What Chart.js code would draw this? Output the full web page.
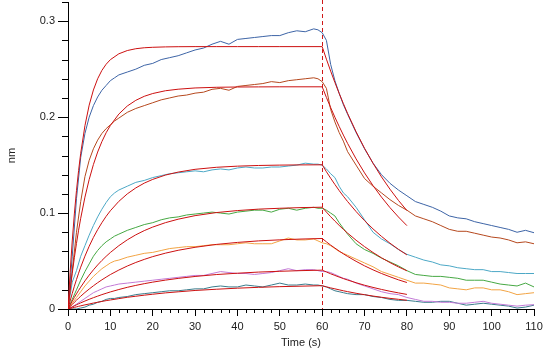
<!DOCTYPE html>
<html>
<head>
<meta charset="utf-8">
<script src="https://cdn.jsdelivr.net/npm/chart.js@4.4.1/dist/chart.umd.min.js"></script>
<style>
  html, body { margin: 0; padding: 0; background: #fff; }
  #wrap { width: 543px; height: 351px; }
</style>
</head>
<body>
<div id="wrap"><canvas id="chart" width="543" height="351"></canvas></div>
<script>
// sensor trace sampling times (s)
const dataTime = [0,1,2,3,4,5,6,7,8,9,10,11,12,14,16,18,20,22,24,26,28,30,32,34,36,38,40,42,44,46,48,50,52,54,56,58,
  59,60,61,62,63,64,65,66,68,70,72,74,76,78,80,82,84,86,88,90,92,94,96,98,100,102,104,106,108,110];

// measured traces (nm), highest to lowest
const traceBlue = [0,0.055,0.115,0.158,0.183,0.200,0.212,0.221,0.228,0.233,0.238,0.241,0.244,
  0.247,0.250,0.254,0.256,0.260,0.262,0.264,0.267,0.270,0.272,0.276,0.279,0.276,0.281,0.282,0.283,0.284,0.285,0.285,0.288,0.290,0.289,0.292,
  0.291,0.288,0.280,0.255,0.238,0.225,0.213,0.203,
  0.184,0.167,0.152,0.140,0.131,0.124,0.118,0.112,0.109,0.106,0.102,0.097,0.095,0.094,0.091,0.089,0.087,0.085,0.083,0.080,0.082,0.0795];
const traceBrown = [0,0.040,0.080,0.112,0.138,0.155,0.167,0.176,0.183,0.188,0.192,0.196,0.199,
  0.205,0.209,0.212,0.215,0.218,0.220,0.222,0.223,0.225,0.226,0.229,0.230,0.228,0.232,0.233,0.234,0.235,0.237,0.236,0.238,0.239,0.240,0.241,
  0.240,0.237,0.230,0.208,0.195,0.184,0.175,0.164,
  0.150,0.136,0.128,0.121,0.114,0.108,0.103,0.097,0.094,0.091,0.087,0.083,0.081,0.081,0.079,0.077,0.075,0.074,0.072,0.069,0.070,0.068];
const traceCyan = [0,0.028,0.040,0.055,0.066,0.077,0.087,0.096,0.104,0.111,0.117,0.121,0.124,
  0.128,0.132,0.134,0.137,0.139,0.141,0.142,0.143,0.144,0.143,0.145,0.146,0.145,0.147,0.148,0.147,0.147,0.148,0.148,0.149,0.150,0.152,0.151,
  0.151,0.150,0.146,0.141,0.137,0.128,0.121,0.117,
  0.106,0.093,0.080,0.073,0.068,0.062,0.057,0.054,0.051,0.049,0.046,0.045,0.043,0.042,0.041,0.041,0.039,0.039,0.038,0.037,0.037,0.037];
const traceGreen = [0,0.010,0.020,0.030,0.039,0.047,0.055,0.061,0.066,0.070,0.073,0.076,0.078,
  0.082,0.085,0.088,0.090,0.093,0.095,0.096,0.098,0.099,0.100,0.101,0.100,0.099,0.101,0.102,0.103,0.103,0.101,0.104,0.105,0.103,0.105,0.106,
  0.105,0.105,0.103,0.100,0.097,0.090,0.084,0.078,
  0.068,0.062,0.058,0.053,0.049,0.045,0.040,0.036,0.035,0.034,0.034,0.033,0.032,0.030,0.030,0.030,0.028,0.026,0.025,0.024,0.027,0.023];
const traceOrange = [0,0.006,0.012,0.018,0.024,0.029,0.034,0.038,0.042,0.045,0.048,0.050,0.051,
  0.054,0.056,0.058,0.059,0.061,0.063,0.064,0.065,0.065,0.066,0.067,0.067,0.067,0.068,0.069,0.068,0.068,0.068,0.071,0.074,0.072,0.072,0.073,
  0.071,0.069,0.068,0.066,0.063,0.060,0.058,0.056,
  0.052,0.048,0.044,0.039,0.036,0.033,0.030,0.027,0.027,0.026,0.025,0.022,0.021,0.020,0.022,0.022,0.020,0.020,0.018,0.015,0.016,0.017];
const tracePurple = [0,0.002,0.005,0.008,0.011,0.014,0.017,0.019,0.021,0.023,0.024,0.025,0.026,
  0.027,0.028,0.029,0.030,0.031,0.032,0.033,0.034,0.035,0.035,0.037,0.039,0.038,0.037,0.037,0.036,0.037,0.038,0.040,0.042,0.040,0.041,0.041,
  0.040,0.039,0.039,0.038,0.036,0.034,0.032,0.031,
  0.027,0.024,0.021,0.018,0.016,0.015,0.012,0.010,0.008,0.008,0.007,0.007,0.006,0.006,0.007,0.008,0.006,0.005,0.004,0.003,0.004,0.0045];
const traceTeal = [0,0.000,0.000,0.001,0.002,0.004,0.005,0.007,0.008,0.010,0.011,0.011,0.012,
  0.013,0.015,0.016,0.017,0.018,0.019,0.019,0.020,0.021,0.021,0.023,0.024,0.023,0.023,0.025,0.024,0.023,0.025,0.027,0.025,0.025,0.026,0.025,
  0.025,0.024,0.023,0.021,0.019,0.018,0.017,0.016,
  0.015,0.015,0.013,0.012,0.010,0.009,0.009,0.008,0.007,0.007,0.008,0.008,0.006,0.004,0.005,0.006,0.005,0.004,0.003,0.001,0.002,0.004];

// fitted curves (nm), association 0-60 s and dissociation 60-80 s
const fitTime = [0,0.5,1,1.5,2,2.5,3,4,5,6,7,8,9,10,12,14,16,18,20,23,26,30,35,40,45,50,55,60,
  61,62,63,64,65,66,68,70,72,74,76,78,80];
const fit1 = [0,0.0381,0.0709,0.0991,0.1234,0.1443,0.1623,0.1911,0.2125,0.2283,0.2400,0.2487,0.2551,0.2599,
  0.2660,0.2694,0.2713,0.2723,0.2728,0.2732,0.2734,0.2735,0.2735,0.2735,0.2735,0.2735,0.2735,0.2735,
  0.2604,0.2480,0.2361,0.2248,0.2141,0.2038,0.1848,0.1675,0.1519,0.1377,0.1249,0.1132,0.1026];
const fit2 = [0,0.0194,0.0372,0.0535,0.0684,0.0821,0.0946,0.1166,0.1350,0.1506,0.1636,0.1745,0.1837,0.1913,
  0.2032,0.2116,0.2175,0.2217,0.2246,0.2275,0.2291,0.2304,0.2311,0.2314,0.2315,0.2316,0.2316,0.2316,
  0.2205,0.2100,0.1999,0.1904,0.1813,0.1726,0.1565,0.1419,0.1286,0.1166,0.1057,0.0959,0.0869];
const fit3 = [0,0.0083,0.0162,0.0237,0.0307,0.0373,0.0436,0.0551,0.0654,0.0746,0.0827,0.0900,0.0966,0.1024,
  0.1122,0.1200,0.1262,0.1312,0.1351,0.1396,0.1427,0.1456,0.1477,0.1489,0.1496,0.1500,0.1502,0.1503,
  0.1431,0.1363,0.1298,0.1235,0.1176,0.1120,0.1016,0.0921,0.0835,0.0757,0.0686,0.0622,0.0564];
const fit4 = [0,0.0042,0.0082,0.0121,0.0158,0.0194,0.0228,0.0293,0.0353,0.0408,0.0459,0.0506,0.0549,0.0589,
  0.0660,0.0721,0.0773,0.0817,0.0854,0.0900,0.0936,0.0973,0.1005,0.1026,0.1041,0.1050,0.1057,0.1061,
  0.1010,0.0962,0.0916,0.0872,0.0830,0.0791,0.0717,0.0650,0.0589,0.0534,0.0484,0.0439,0.0398];
const fit5 = [0,0.0024,0.0047,0.0070,0.0091,0.0113,0.0133,0.0172,0.0208,0.0242,0.0274,0.0304,0.0332,0.0359,
  0.0406,0.0448,0.0485,0.0517,0.0546,0.0582,0.0612,0.0643,0.0673,0.0694,0.0710,0.0721,0.0729,0.0735,
  0.0700,0.0666,0.0635,0.0604,0.0575,0.0548,0.0497,0.0450,0.0408,0.0370,0.0336,0.0304,0.0276];
const fit6 = [0,0.0011,0.0022,0.0033,0.0044,0.0054,0.0064,0.0083,0.0101,0.0118,0.0134,0.0150,0.0164,0.0178,
  0.0203,0.0226,0.0246,0.0264,0.0280,0.0301,0.0319,0.0339,0.0359,0.0373,0.0385,0.0393,0.0400,0.0405,
  0.0386,0.0367,0.0350,0.0333,0.0317,0.0302,0.0274,0.0248,0.0225,0.0204,0.0185,0.0168,0.0152];
const fit7 = [0,0.0006,0.0011,0.0017,0.0022,0.0028,0.0033,0.0043,0.0052,0.0062,0.0070,0.0079,0.0087,0.0094,
  0.0108,0.0122,0.0133,0.0144,0.0154,0.0168,0.0179,0.0193,0.0206,0.0217,0.0226,0.0233,0.0238,0.0243,
  0.0231,0.0220,0.0210,0.0200,0.0190,0.0181,0.0164,0.0149,0.0135,0.0122,0.0111,0.0101,0.0091];

// association -> dissociation switch (s)
const phaseSwitch = [60];

const traces = [
  { data: traceBlue, color: '#3d64a6' },
  { data: traceBrown, color: '#b5481e' },
  { data: traceCyan, color: '#4ca8c6' },
  { data: traceGreen, color: '#46a843' },
  { data: traceOrange, color: '#f2a444' },
  { data: tracePurple, color: '#c27ad6' },
  { data: traceTeal, color: '#3a7c8c' },
];
const fits = [fit1, fit2, fit3, fit4, fit5, fit6, fit7];

const FIT_RED = '#cc1010';
const FONT = { family: '"Liberation Sans", Arial, sans-serif', size: 11 };

const datasets = [];
traces.forEach(t => {
  datasets.push({
    data: dataTime.map((x, i) => ({ x, y: t.data[i] })),
    borderColor: t.color,
    borderWidth: 1,
    pointRadius: 0,
    tension: 0,
    order: 2
  });
});
fits.forEach(f => {
  datasets.push({
    data: fitTime.map((x, i) => ({ x, y: f[i] })),
    borderColor: FIT_RED,
    borderWidth: 1,
    pointRadius: 0,
    tension: 0,
    order: 1
  });
});

// minor ticks + dashed switch line
const extras = {
  id: 'extras',
  beforeDatasetsDraw(chart) {
    const { ctx, chartArea, scales: { x } } = chart;
    ctx.save();
    ctx.strokeStyle = '#d01818';
    ctx.lineWidth = 1;
    ctx.setLineDash([4, 3]);
    phaseSwitch.forEach(t => {
      const px = Math.round(x.getPixelForValue(t)) + 0.5;
      ctx.beginPath();
      ctx.moveTo(px, 0);
      ctx.lineTo(px, chartArea.bottom);
      ctx.stroke();
    });
    ctx.restore();
  },
  afterDraw(chart) {
    const { ctx, chartArea, scales: { x, y } } = chart;
    ctx.save();
    ctx.strokeStyle = '#000';
    ctx.lineWidth = 1;
    ctx.beginPath();
    for (let i = 0; i <= 55; i++) {
      if (i % 5 === 0) continue;
      const px = Math.round(x.getPixelForValue(i * 2)) + 0.5;
      ctx.moveTo(px, chartArea.bottom);
      ctx.lineTo(px, chartArea.bottom + 4);
    }
    for (let i = 0; i <= 16; i++) {
      if (i % 5 === 0) continue;
      const py = Math.round(y.getPixelForValue(i * 0.02)) + 0.5;
      ctx.moveTo(chartArea.left, py);
      ctx.lineTo(chartArea.left - 6, py);
    }
    ctx.stroke();
    ctx.restore();
  }
};

new Chart(document.getElementById('chart'), {
  type: 'line',
  data: { datasets },
  options: {
    responsive: false,
    animation: false,
    layout: { padding: { left: 0, right: 9, top: 2, bottom: 0 } },
    plugins: { legend: { display: false }, tooltip: { enabled: false } },
    scales: {
      x: {
        type: 'linear',
        min: 0,
        max: 110,
        afterFit: s => { s.height = 42; s.paddingLeft = 0; s.paddingRight = 0; },
        ticks: { stepSize: 10, color: '#222', font: FONT, padding: 4, maxRotation: 0 },
        grid: { drawOnChartArea: false, drawTicks: true, tickLength: 7, color: '#000' },
        border: { color: '#000', width: 1 },
        title: { display: true, text: 'Time (s)', color: '#222', font: FONT, padding: { top: 0, bottom: 1 } }
      },
      y: {
        min: 0,
        max: 0.32,
        afterFit: s => { s.width = 68; s.paddingTop = 0; s.paddingBottom = 0; },
        ticks: {
          stepSize: 0.1,
          includeBounds: false,
          color: '#222',
          font: FONT,
          padding: 3,
          callback: v => v === 0 ? '0' : v.toFixed(1)
        },
        grid: { drawOnChartArea: false, drawTicks: true, tickLength: 10, color: '#000' },
        border: { color: '#000', width: 1 },
        title: { display: true, text: 'nm', color: '#222', font: FONT, padding: { top: 5, bottom: 0 } }
      }
    }
  },
  plugins: [extras]
});
</script>
</body>
</html>
